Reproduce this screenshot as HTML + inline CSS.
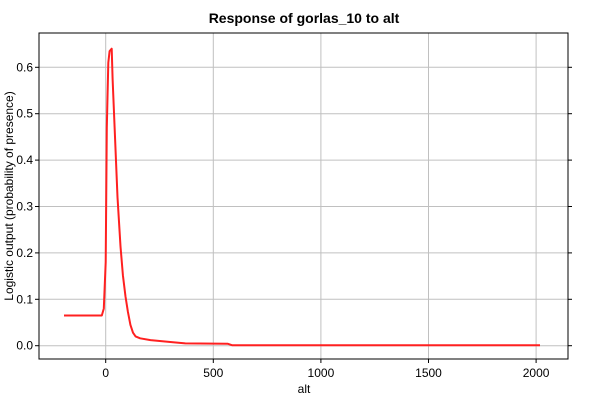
<!DOCTYPE html>
<html><head><meta charset="utf-8"><style>
body{margin:0;background:#fff;font-family:"Liberation Sans",sans-serif}
</style></head><body>
<svg id="chart" width="600" height="400" xmlns="http://www.w3.org/2000/svg" font-family="Liberation Sans, sans-serif">
<rect width="600" height="400" fill="#fff"/>
<text x="304" y="23" font-size="14" font-weight="bold" text-anchor="middle">Response of gorlas_10 to alt</text>
<text x="304" y="393" font-size="12" text-anchor="middle">alt</text>
<text transform="translate(13,196) rotate(-90)" font-size="12" text-anchor="middle">Logistic output (probability of presence)</text>
<g id="grid"></g>
<g id="axes"></g>
<g id="series"></g>
<rect x="39" y="33" width="529" height="326" fill="none" stroke="#000" stroke-width="1"/>
</svg>
<script>
const xTicks=[0,500,1000,1500,2000];
const yTicks=[0,0.1,0.2,0.3,0.4,0.5,0.6];
const yTickLabels=["0.0","0.1","0.2","0.3","0.4","0.5","0.6"];
const altValues=[-194,-18,-9,0,5,12,18,28,32,55,69,80,92,103,115,127,139,160,208,300,370,568,587,2018];
const responseValues=[0.065,0.065,0.08,0.18,0.47,0.61,0.635,0.64,0.575,0.32,0.214,0.152,0.106,0.073,0.045,0.028,0.02,0.016,0.012,0.008,0.005,0.004,0.001,0.001];
const L=39,R=568,T=33,B=359;
function xs(v){return 105.7+v*(107.6/500);}
function ys(v){return 345.7-v*464;}
const NS="http://www.w3.org/2000/svg";
const grid=document.getElementById('grid'),axes=document.getElementById('axes'),series=document.getElementById('series');
function mk(tag,attrs,parent){const e=document.createElementNS(NS,tag);for(const k in attrs)e.setAttribute(k,attrs[k]);parent.appendChild(e);return e;}
xTicks.forEach(t=>{const x=xs(t);
const g=mk('line',{x1:x,x2:x,y1:T,y2:B,stroke:'#c0c0c0','stroke-width':1},grid);


const tk=mk('line',{x1:x,x2:x,y1:B,y2:B+4,stroke:'#000'},axes);


const tx=mk('text',{x:x,y:B+18,'font-size':12,'text-anchor':'middle'},axes);tx.textContent=t;


});
yTicks.forEach((t,i)=>{const y=ys(t);
const g=mk('line',{x1:L,x2:R,y1:y,y2:y,stroke:'#c0c0c0','stroke-width':1},grid);


const tk=mk('line',{x1:L-4,x2:L,y1:y,y2:y,stroke:'#000'},axes);


const tk2=mk('line',{x1:R,x2:R+4,y1:y,y2:y,stroke:'#000'},axes);


const tx=mk('text',{x:L-6,y:y+4,'font-size':12,'text-anchor':'end'},axes);tx.textContent=yTickLabels[i];


});
const pts=altValues.map((a,i)=>xs(a).toFixed(1)+','+ys(responseValues[i]).toFixed(1)).join(' ');
const line=mk('polyline',{points:pts,fill:'none',stroke:'#ff2020','stroke-width':2,'stroke-linejoin':'round'},series);


</script>
</body></html>
